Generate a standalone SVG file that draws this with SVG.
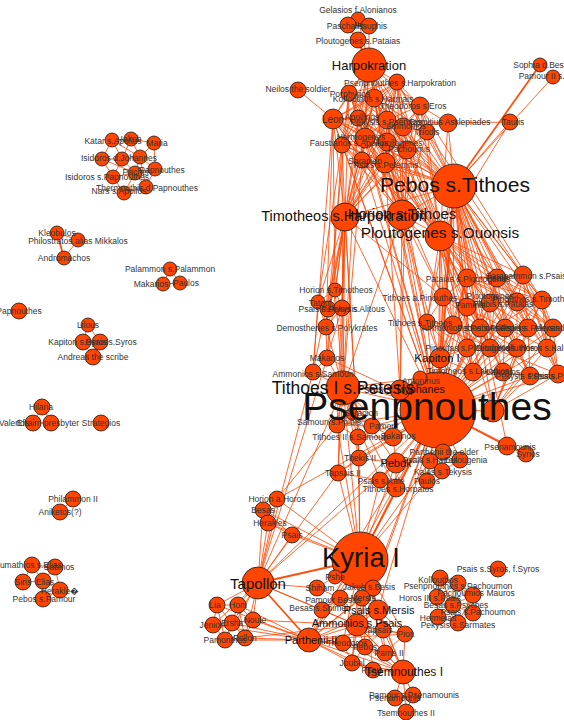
<svg xmlns="http://www.w3.org/2000/svg" width="564" height="720" viewBox="0 0 564 720">
<style>
.e{fill:none;stroke:#ff4500;stroke-width:0.85;stroke-opacity:0.95;stroke-linecap:round}
.w{stroke-width:1.8}
.n circle{fill:#ff4500;stroke:#1a1a1a;stroke-width:0.8}
text{font-family:"Liberation Sans",Arial,Helvetica,sans-serif;text-anchor:middle;fill:#333;font-size:8.5px}
.L{fill:#111}
</style>
<rect width="564" height="720" fill="#fff"/>
<g id="connectors">
<path class="e" d="M369 65L358 19M369 65L348 25M369 65L369 26M369 65L397 82M369 65L349 93M369 65L374 98M369 65L420 106M369 65L333 119M369 65L358 118M369 65L387 120M369 65L403 127M369 65L365 138M369 65L342 145M369 65L387 142M369 65L407 150M369 65L385 163M369 65L362 160M369 65L454 186M369 65L345 217M369 65L402 215"/>
<path class="e w" d="M369 65L358 40"/>
<path class="e" d="M358 19L348 25M358 19L369 26M348 25L358 40M369 26L358 40M348 25L369 26M298 90L333 119"/>
<path class="e" d="M397 82L349 93M397 82L374 98M397 82L420 106M397 82L333 119M397 82L358 118M397 82L387 120M397 82L403 127M397 82L427 132M397 82L365 138M397 82L342 145M397 82L387 142M397 82L407 150M397 82L385 163M349 93L374 98M349 93L333 119M349 93L358 118M349 93L387 120M349 93L365 138M349 93L342 145M349 93L387 142M349 93L385 163M374 98L420 106M374 98L333 119M374 98L358 118M374 98L387 120M374 98L403 127M374 98L427 132M374 98L365 138M374 98L407 150M374 98L385 163M374 98L362 160M420 106L387 120M420 106L403 127M420 106L427 132M420 106L407 150M420 106L448 123M333 119L358 118M333 119L387 120M333 119L365 138M333 119L342 145M333 119L387 142M333 119L385 163M333 119L362 160M358 118L387 120M358 118L365 138M358 118L342 145M358 118L407 150M387 120L403 127M387 120L365 138M387 120L387 142M387 120L407 150M387 120L385 163M387 120L448 123M403 127L427 132M403 127L387 142M403 127L407 150M403 127L448 123M448 123L510 122M427 132L407 150M365 138L342 145M365 138L387 142M365 138L385 163M365 138L362 160M342 145L387 142M342 145L385 163M342 145L362 160M387 142L407 150M387 142L385 163M407 150L385 163M385 163L362 160"/>
<path class="e" d="M454 186L397 82M454 186L349 93M454 186L374 98M454 186L420 106M454 186L333 119M454 186L358 118M454 186L387 120M454 186L403 127M454 186L448 123M454 186L510 122M454 186L427 132M454 186L365 138M454 186L342 145M454 186L387 142M454 186L407 150M454 186L385 163M454 186L362 160M454 186L553 77M454 186L467 278M454 186L497 278M454 186L523 275M454 186L443 297M454 186L490 303M454 186L467 307M454 186L517 302M454 186L542 300M454 186L427 322M454 186L453 325M454 186L480 328M454 186L505 328M454 186L528 328M454 186L553 328M454 186L467 348M454 186L490 348M454 186L517 348M454 186L547 348M454 186L440 358M454 186L473 372M454 186L503 372M454 186L530 376M454 186L558 374M454 186L345 217M454 186L402 215M454 186L440 236M454 186L493 411M454 186L507 446"/>
<path class="e w" d="M454 186L540 65M454 186L438 410"/>
<path class="e" d="M345 217L397 82M345 217L349 93M345 217L374 98M345 217L420 106M345 217L333 119M345 217L358 118M345 217L387 120M345 217L403 127M345 217L427 132M345 217L365 138M345 217L342 145M345 217L387 142M345 217L407 150M345 217L385 163M345 217L362 160M345 217L335 290M345 217L318 302M345 217L328 309M345 217L342 308M345 217L326 327M345 217L327 358M345 217L313 372M345 217L343 388M345 217L438 410M345 217L337 425M345 217L358 437M345 217L359 458M345 217L338 473M345 217L402 215M345 217L443 297"/>
<path class="e" d="M402 215L397 82M402 215L349 93M402 215L374 98M402 215L420 106M402 215L333 119M402 215L358 118M402 215L387 120M402 215L403 127M402 215L427 132M402 215L365 138M402 215L342 145M402 215L387 142M402 215L407 150M402 215L385 163M402 215L362 160M402 215L400 390M402 215L438 410M402 215L443 297M402 215L427 322M402 215L440 358M402 215L467 278M402 215L343 388M402 215L440 236"/>
<path class="e" d="M440 236L397 82M440 236L349 93M440 236L374 98M440 236L420 106M440 236L333 119M440 236L358 118M440 236L387 120M440 236L403 127M440 236L448 123M440 236L510 122M440 236L427 132M440 236L365 138M440 236L342 145M440 236L387 142M440 236L407 150M440 236L385 163M440 236L362 160M440 236L467 278M440 236L497 278M440 236L523 275M440 236L443 297M440 236L490 303M440 236L467 307M440 236L517 302M440 236L542 300M440 236L427 322M440 236L453 325M440 236L480 328M440 236L505 328M440 236L528 328M440 236L467 348M440 236L490 348M440 236L440 358M440 236L473 372M440 236L503 372M440 236L438 410M440 236L493 411"/>
<path class="e" d="M333 119L438 410M358 118L438 410M365 138L438 410M342 145L438 410M385 163L438 410M362 160L438 410M374 98L438 410M333 119L335 290M333 119L326 327M342 145L318 302M342 145L327 358M362 160L343 388M358 118L343 388M349 93L328 309M407 150L467 278M385 163L443 297M403 127L497 278M427 132L523 275M387 142L467 307M387 120L427 322M420 106L542 300M407 150L400 390M385 163L400 390M333 119L313 372M342 145L343 388"/>
<path class="e" d="M335 290L318 302M335 290L328 309M335 290L342 308M318 302L328 309M328 309L342 308M318 302L326 327M328 309L326 327M342 308L326 327M326 327L327 358M327 358L313 372M327 358L343 388M313 372L343 388M326 327L343 388M335 290L343 388M342 308L327 358M318 302L313 372"/>
<path class="e" d="M467 278L497 278M467 278L523 275M467 278L443 297M467 278L490 303M467 278L467 307M467 278L517 302M467 278L542 300M467 278L453 325M467 278L480 328M467 278L467 348M467 278L440 358M497 278L523 275M497 278L490 303M497 278L517 302M497 278L542 300M497 278L505 328M497 278L528 328M497 278L553 328M497 278L490 348M523 275L517 302M523 275L542 300M523 275L528 328M523 275L553 328M523 275L547 348M523 275L558 374M443 297L490 303M443 297L467 307M443 297L427 322M443 297L453 325M443 297L480 328M443 297L467 348M443 297L440 358M490 303L467 307M490 303L517 302M490 303L480 328M490 303L505 328M490 303L528 328M490 303L490 348M467 307L453 325M467 307L480 328M467 307L467 348M467 307L490 348M467 307L440 358M517 302L542 300M517 302L505 328M517 302L528 328M517 302L553 328M517 302L517 348M542 300L528 328M542 300L553 328M542 300L547 348M542 300L558 374M427 322L453 325M427 322L467 348M427 322L440 358M427 322L473 372M453 325L480 328M453 325L467 348M453 325L490 348M453 325L440 358M453 325L473 372M480 328L505 328M480 328L490 348M480 328L517 348M480 328L503 372M505 328L528 328M505 328L517 348M505 328L503 372M505 328L530 376M528 328L553 328M528 328L547 348M528 328L530 376M553 328L547 348M553 328L558 374M467 348L490 348M467 348L440 358M467 348L473 372M490 348L517 348M490 348L503 372M517 348L547 348M517 348L530 376M547 348L558 374M440 358L473 372M473 372L503 372M503 372L530 376M530 376L558 374M467 278L553 328M443 297L547 348M427 322L558 374M523 275L473 372M542 300L440 358M497 278L473 372M467 307L530 376"/>
<path class="e" d="M467 278L438 410M497 278L438 410M523 275L438 410M443 297L438 410M490 303L438 410M467 307L438 410M517 302L438 410M542 300L438 410M427 322L438 410M453 325L438 410M480 328L438 410M505 328L438 410M528 328L438 410M553 328L438 410M467 348L438 410M490 348L438 410M517 348L438 410M547 348L438 410M440 358L438 410M473 372L438 410M503 372L438 410M530 376L438 410M558 374L438 410M553 328L493 411M547 348L493 411M530 376L493 411M558 374L493 411M517 348L493 411M528 328L493 411M542 300L493 411"/>
<path class="e" d="M438 410L400 390M438 410L420 378M438 410L493 411M438 410L337 425M438 410L372 426M438 410L358 437M438 410L393 437M438 410L359 458M438 410L396 463M438 410L443 452M438 410L430 461M438 410L460 460M438 410L442 471M438 410L427 481M438 410L338 473M438 410L380 480M438 410L396 488M438 410L526 454M438 410L327 358M438 410L313 372M438 410L343 388M438 410L258 583M438 410L309 640M438 410L378 610M438 410L357 625M438 410L335 577M438 410L373 588M438 410L277 499"/>
<path class="e w" d="M438 410L507 446M507 446L526 454M438 410L360 560M360 560L258 583M258 583L309 640"/>
<path class="e" d="M343 388L400 390M343 388L337 425M343 388L372 426M343 388L358 437M343 388L393 437M343 388L359 458M343 388L338 473M343 388L396 463M343 388L420 378M343 388L360 560M343 388L380 480M343 388L396 488"/>
<path class="e" d="M337 425L372 426M337 425L358 437M372 426L358 437M372 426L393 437M358 437L393 437M358 437L359 458M359 458L396 463M359 458L338 473M396 463L443 452M396 463L430 461M396 463L380 480M396 463L396 488M443 452L430 461M443 452L460 460M430 461L442 471M460 460L442 471M442 471L427 481M380 480L396 488M338 473L380 480M393 437L396 463M400 390L393 437M337 425L352 414M352 414L372 426M277 499L337 425M263 510L268 523M268 523L292 535M263 510L292 535M277 499L263 510"/>
<path class="e" d="M360 560L359 458M360 560L396 463M360 560L338 473M360 560L380 480M360 560L396 488M360 560L337 425M360 560L358 437M360 560L277 499M360 560L263 510M360 560L268 523M360 560L292 535M360 560L335 577M360 560L317 588M360 560L373 588M360 560L340 598M360 560L362 598M360 560L322 610M360 560L378 610M360 560L357 625M360 560L383 630M360 560L405 634M360 560L309 640M360 560L343 643M360 560L365 647M360 560L385 653M360 560L352 663M360 560L373 670M360 560L403 672M360 560L427 481M360 560L430 461"/>
<path class="e" d="M258 583L313 372M258 583L343 388M258 583L277 499M258 583L263 510M258 583L268 523M258 583L292 535M258 583L338 473M258 583L396 463M258 583L217 605M258 583L238 605M258 583L213 625M258 583L232 623M258 583L253 620M258 583L225 640M258 583L245 638M258 583L317 588M258 583L322 610M258 583L357 625M258 583L327 358"/>
<path class="e" d="M217 605L238 605M217 605L213 625M217 605L232 623M238 605L232 623M238 605L253 620M213 625L232 623M213 625L225 640M232 623L253 620M232 623L225 640M232 623L245 638M253 620L245 638M225 640L245 638M238 605L245 638M217 605L225 640M253 620L309 640M245 638L309 640M225 640L309 640M232 623L309 640M238 605L309 640M213 625L309 640M217 605L309 640M253 620L357 625M245 638L357 625"/>
<path class="e" d="M309 640L357 625M309 640L378 610M309 640L383 630M309 640L405 634M309 640L343 643M309 640L365 647M309 640L385 653M309 640L352 663M309 640L373 670M309 640L403 672M309 640L373 588M309 640L322 610M309 640L340 598M309 640L362 598"/>
<path class="e" d="M378 610L357 625M378 610L383 630M378 610L405 634M378 610L373 588M378 610L362 598M357 625L383 630M357 625L343 643M357 625L365 647M357 625L385 653M357 625L352 663M357 625L405 634M383 630L405 634M383 630L365 647M383 630L385 653M405 634L403 672M405 634L385 653M343 643L365 647M365 647L385 653M365 647L352 663M385 653L403 672M352 663L373 670M373 670L403 672M365 647L403 672M343 643L403 672M352 663L403 672M357 625L403 672M383 630L403 672M335 577L373 588M317 588L340 598M340 598L362 598M322 610L340 598M373 588L362 598M322 610L357 625M340 598L357 625M362 598L357 625M343 643L352 663M378 610L403 672"/>
<path class="e" d="M403 672L395 698M403 672L413 695M403 672L406 712M395 698L413 695M395 698L406 712M413 695L406 712"/>
<path class="e" d="M440 578L458 583M440 578L473 595M440 578L437 597M440 578L453 605M458 583L473 595M458 583L437 597M458 583L453 605M458 583L473 613M473 595L453 605M473 595L473 613M437 597L453 605M437 597L438 617M453 605L473 613M453 605L438 617M453 605L458 623M473 613L458 623M438 617L458 623M437 597L458 623M473 595L458 623"/>
<path class="e" d="M112 140L131 139M112 140L102 159M112 140L122 159M112 140L140 157M131 139L154 143M131 139L122 159M131 139L140 157M154 143L140 157M154 143L155 169M102 159L122 159M102 159L113 177M122 159L140 157M122 159L135 173M122 159L113 177M140 157L155 169M140 157L135 173M155 169L135 173M155 169L146 187M113 177L135 173M113 177L124 193M135 173L146 187M135 173L124 193M146 187L124 193M102 159L135 173M140 157L146 187"/>
<path class="e" d="M57 233L78 240M78 240L64 258M170 269L163 284M170 269L180 283M163 284L180 283M88 325L83 342M88 325L100 342M83 342L100 342M83 342L93 357M100 342L93 357M42 407L33 423M42 407L51 423M33 423L51 423M73 499L60 512M32 565L55 567M32 565L23 582M32 565L43 581M55 567L43 581M23 582L43 581M43 581L60 590M43 581L43 599M60 590L43 599M55 567L60 590"/>
<path class="e w" d="M57 233L64 258"/>
</g>
<g id="nodes">
<g id="gelasios" class="n"><circle cx="358" cy="19" r="7"/></g>
<g id="paschalis" class="n"><circle cx="348" cy="25" r="8"/></g>
<g id="psuphis" class="n"><circle cx="369" cy="26" r="8"/></g>
<g id="ploutogenes-pataias" class="n"><circle cx="358" cy="40" r="8"/></g>
<g id="harpokration" class="n"><circle cx="369" cy="65" r="17"/></g>
<g id="neilos" class="n"><circle cx="298" cy="90" r="8"/></g>
<g id="psenpnouthes-harpokration" class="n"><circle cx="397" cy="82" r="8"/></g>
<g id="porphyrios" class="n"><circle cx="349" cy="93" r="8"/></g>
<g id="kollouthos-harmais" class="n"><circle cx="374" cy="98" r="9"/></g>
<g id="theodoros-eros" class="n"><circle cx="420" cy="106" r="9"/></g>
<g id="leon" class="n"><circle cx="333" cy="119" r="10"/></g>
<g id="apollinos" class="n"><circle cx="358" cy="118" r="8"/></g>
<g id="pekysis-psennos" class="n"><circle cx="387" cy="120" r="9"/></g>
<g id="ammonios" class="n"><circle cx="403" cy="127" r="9"/></g>
<g id="domitius" class="n"><circle cx="448" cy="123" r="9"/></g>
<g id="tauris" class="n"><circle cx="510" cy="122" r="8"/></g>
<g id="triodis" class="n"><circle cx="427" cy="132" r="8"/></g>
<g id="hermogenes" class="n"><circle cx="365" cy="138" r="10"/></g>
<g id="faustianos" class="n"><circle cx="342" cy="145" r="8"/></g>
<g id="apollogenes" class="n"><circle cx="387" cy="142" r="9"/></g>
<g id="pachoumis" class="n"><circle cx="407" cy="150" r="9"/></g>
<g id="psais-petemnis" class="n"><circle cx="385" cy="163" r="10"/></g>
<g id="sarapion-top" class="n"><circle cx="362" cy="160" r="8"/></g>
<g id="sophia" class="n"><circle cx="540" cy="65" r="7"/></g>
<g id="pamour-ii" class="n"><circle cx="553" cy="77" r="7"/></g>
<g id="pebos-tithoes" class="n"><circle cx="454" cy="186" r="22"/></g>
<g id="timotheos-harpokration" class="n"><circle cx="345" cy="217" r="14"/></g>
<g id="horion-tithoes" class="n"><circle cx="402" cy="215" r="15"/></g>
<g id="ploutogenes-ouonsis" class="n"><circle cx="440" cy="236" r="15"/></g>
<g id="horion-timotheos" class="n"><circle cx="335" cy="290" r="7"/></g>
<g id="tatoul" class="n"><circle cx="318" cy="302" r="7"/></g>
<g id="psais-pekysis" class="n"><circle cx="328" cy="309" r="8"/></g>
<g id="pekysis-alitous" class="n"><circle cx="342" cy="308" r="8"/></g>
<g id="demosthenes" class="n"><circle cx="326" cy="327" r="8"/></g>
<g id="makarios-mid" class="n"><circle cx="327" cy="358" r="8"/></g>
<g id="ammonios-samoun" class="n"><circle cx="313" cy="372" r="8"/></g>
<g id="tithoes-i-petesis" class="n"><circle cx="343" cy="388" r="17"/></g>
<g id="pataias" class="n"><circle cx="467" cy="278" r="9"/></g>
<g id="psais-r" class="n"><circle cx="497" cy="278" r="9"/></g>
<g id="sarapammon" class="n"><circle cx="523" cy="275" r="9"/></g>
<g id="tithoes-pinouthes" class="n"><circle cx="443" cy="297" r="9"/></g>
<g id="ploutogenes" class="n"><circle cx="490" cy="303" r="9"/></g>
<g id="paminis" class="n"><circle cx="467" cy="307" r="9"/></g>
<g id="phibis" class="n"><circle cx="517" cy="302" r="9"/></g>
<g id="pinouthes-timotheos" class="n"><circle cx="542" cy="300" r="9"/></g>
<g id="tithoes-tithoes" class="n"><circle cx="427" cy="322" r="8"/></g>
<g id="ammonios-pebos" class="n"><circle cx="453" cy="325" r="9"/></g>
<g id="pebos-psais" class="n"><circle cx="480" cy="328" r="9"/></g>
<g id="asklepios" class="n"><circle cx="505" cy="328" r="9"/></g>
<g id="psais-pekysis-r" class="n"><circle cx="528" cy="328" r="9"/></g>
<g id="alexandros" class="n"><circle cx="553" cy="328" r="9"/></g>
<g id="pinoutas" class="n"><circle cx="467" cy="348" r="9"/></g>
<g id="diodoros" class="n"><circle cx="490" cy="348" r="9"/></g>
<g id="kolluthos-r" class="n"><circle cx="517" cy="348" r="9"/></g>
<g id="horos-kalos" class="n"><circle cx="547" cy="348" r="9"/></g>
<g id="kapiton-i" class="n"><circle cx="440" cy="358" r="10"/></g>
<g id="timotheos-lakonios" class="n"><circle cx="473" cy="372" r="9"/></g>
<g id="lakonios" class="n"><circle cx="503" cy="372" r="9"/></g>
<g id="pekysis-psais" class="n"><circle cx="530" cy="376" r="9"/></g>
<g id="psais-psenosiris" class="n"><circle cx="558" cy="374" r="9"/></g>
<g id="psenpnouthes" class="n"><circle cx="438" cy="410" r="38"/></g>
<g id="antoninus" class="n"><circle cx="420" cy="378" r="7"/></g>
<g id="psais-tryphanes" class="n"><circle cx="400" cy="390" r="10"/></g>
<g id="kollouthos-hidden" class="n"><circle cx="493" cy="411" r="11"/></g>
<g id="samoun" class="n"><circle cx="337" cy="425" r="8"/></g>
<g id="sarapion" class="n"><circle cx="352" cy="414" r="6"/></g>
<g id="pamour" class="n"><circle cx="372" cy="426" r="8"/></g>
<g id="tithoes-ii" class="n"><circle cx="358" cy="437" r="8"/></g>
<g id="sakainos" class="n"><circle cx="393" cy="437" r="9"/></g>
<g id="tbekis" class="n"><circle cx="359" cy="458" r="8"/></g>
<g id="pebok" class="n"><circle cx="396" cy="463" r="10"/></g>
<g id="parthenii-elder" class="n"><circle cx="443" cy="452" r="8"/></g>
<g id="psais-hatres" class="n"><circle cx="430" cy="461" r="8"/></g>
<g id="eulougenia" class="n"><circle cx="460" cy="460" r="8"/></g>
<g id="kales" class="n"><circle cx="442" cy="471" r="8"/></g>
<g id="paulos" class="n"><circle cx="427" cy="481" r="8"/></g>
<g id="tapsais-ii" class="n"><circle cx="338" cy="473" r="8"/></g>
<g id="psais-kale" class="n"><circle cx="380" cy="480" r="8"/></g>
<g id="tithoes-horpatos" class="n"><circle cx="396" cy="488" r="9"/></g>
<g id="psenamounis-r" class="n"><circle cx="507" cy="446" r="9"/></g>
<g id="syrios" class="n"><circle cx="526" cy="454" r="8"/></g>
<g id="horion-horos" class="n"><circle cx="277" cy="499" r="8"/></g>
<g id="besas" class="n"><circle cx="263" cy="510" r="8"/></g>
<g id="herakles" class="n"><circle cx="268" cy="523" r="8"/></g>
<g id="psais-l" class="n"><circle cx="292" cy="535" r="8"/></g>
<g id="kyria-i" class="n"><circle cx="360" cy="560" r="28"/></g>
<g id="tapollon" class="n"><circle cx="258" cy="583" r="16"/></g>
<g id="pshe" class="n"><circle cx="335" cy="577" r="7"/></g>
<g id="shiham" class="n"><circle cx="317" cy="588" r="8"/></g>
<g id="jakob" class="n"><circle cx="373" cy="588" r="8"/></g>
<g id="pamour-besas" class="n"><circle cx="340" cy="598" r="8"/></g>
<g id="mersis" class="n"><circle cx="362" cy="598" r="8"/></g>
<g id="besas-shimeh" class="n"><circle cx="322" cy="610" r="8"/></g>
<g id="psais-mersis" class="n"><circle cx="378" cy="610" r="10"/></g>
<g id="ammonios-psais" class="n"><circle cx="357" cy="625" r="11"/></g>
<g id="tapsais" class="n"><circle cx="383" cy="630" r="8"/></g>
<g id="pion" class="n"><circle cx="405" cy="634" r="8"/></g>
<g id="parthenii-ii" class="n"><circle cx="309" cy="640" r="12"/></g>
<g id="theodoros" class="n"><circle cx="343" cy="643" r="8"/></g>
<g id="pebos" class="n"><circle cx="365" cy="647" r="8"/></g>
<g id="pame-ii" class="n"><circle cx="385" cy="653" r="8"/></g>
<g id="joubel" class="n"><circle cx="352" cy="663" r="8"/></g>
<g id="psais-k" class="n"><circle cx="373" cy="670" r="8"/></g>
<g id="tsemnouthes-i" class="n"><circle cx="403" cy="672" r="12"/></g>
<g id="psenamounis" class="n"><circle cx="395" cy="698" r="8"/></g>
<g id="pamour-psenamounis" class="n"><circle cx="413" cy="695" r="8"/></g>
<g id="tsemnouthes-ii" class="n"><circle cx="406" cy="712" r="8"/></g>
<g id="lia" class="n"><circle cx="217" cy="605" r="8"/></g>
<g id="hom" class="n"><circle cx="238" cy="605" r="8"/></g>
<g id="jenior" class="n"><circle cx="213" cy="625" r="8"/></g>
<g id="ersha" class="n"><circle cx="232" cy="623" r="8"/></g>
<g id="noute" class="n"><circle cx="253" cy="620" r="8"/></g>
<g id="pamonthes" class="n"><circle cx="225" cy="640" r="8"/></g>
<g id="pollon" class="n"><circle cx="245" cy="638" r="8"/></g>
<g id="psais-syros" class="n"><circle cx="498" cy="569" r="8"/></g>
<g id="kollouthos" class="n"><circle cx="440" cy="578" r="8"/></g>
<g id="psenpnouthes-pachoumon" class="n"><circle cx="458" cy="583" r="8"/></g>
<g id="pachoumios" class="n"><circle cx="473" cy="595" r="8"/></g>
<g id="horos-iii" class="n"><circle cx="437" cy="597" r="8"/></g>
<g id="besas-psyches" class="n"><circle cx="453" cy="605" r="8"/></g>
<g id="psais-pachoumon" class="n"><circle cx="473" cy="613" r="8"/></g>
<g id="hermeias" class="n"><circle cx="438" cy="617" r="8"/></g>
<g id="pekysis-sarmates" class="n"><circle cx="458" cy="623" r="8"/></g>
<g id="katar" class="n"><circle cx="112" cy="140" r="7"/></g>
<g id="iakob" class="n"><circle cx="131" cy="139" r="7"/></g>
<g id="maria" class="n"><circle cx="154" cy="143" r="7"/></g>
<g id="isidoros" class="n"><circle cx="102" cy="159" r="7"/></g>
<g id="isidoros-johannes" class="n"><circle cx="122" cy="159" r="7"/></g>
<g id="johannes" class="n"><circle cx="140" cy="157" r="7"/></g>
<g id="papnouthes-a" class="n"><circle cx="155" cy="169" r="7"/></g>
<g id="isidoros-papnouthes" class="n"><circle cx="113" cy="177" r="7"/></g>
<g id="pacher" class="n"><circle cx="135" cy="173" r="7"/></g>
<g id="thermouthis" class="n"><circle cx="146" cy="187" r="7"/></g>
<g id="nars" class="n"><circle cx="124" cy="193" r="7"/></g>
<g id="kleobulos" class="n"><circle cx="57" cy="233" r="7"/></g>
<g id="philostratos" class="n"><circle cx="78" cy="240" r="7"/></g>
<g id="andromachos" class="n"><circle cx="64" cy="258" r="7"/></g>
<g id="palammon" class="n"><circle cx="170" cy="269" r="7"/></g>
<g id="makarios" class="n"><circle cx="163" cy="284" r="7"/></g>
<g id="paulos-b" class="n"><circle cx="180" cy="283" r="7"/></g>
<g id="papnouthes" class="n"><circle cx="19" cy="311" r="8"/></g>
<g id="lilous" class="n"><circle cx="88" cy="325" r="7"/></g>
<g id="kapiton-syros" class="n"><circle cx="83" cy="342" r="8"/></g>
<g id="psais-syros-b" class="n"><circle cx="100" cy="342" r="8"/></g>
<g id="andreas" class="n"><circle cx="93" cy="357" r="8"/></g>
<g id="hilaria" class="n"><circle cx="42" cy="407" r="8"/></g>
<g id="valerios" class="n"><circle cx="33" cy="423" r="8"/></g>
<g id="presbyter" class="n"><circle cx="51" cy="423" r="8"/></g>
<g id="strategios" class="n"><circle cx="101" cy="423" r="8"/></g>
<g id="philammon" class="n"><circle cx="73" cy="499" r="8"/></g>
<g id="aniketos" class="n"><circle cx="60" cy="512" r="8"/></g>
<g id="eumathios" class="n"><circle cx="32" cy="565" r="8"/></g>
<g id="sabinos" class="n"><circle cx="55" cy="567" r="8"/></g>
<g id="siris" class="n"><circle cx="23" cy="582" r="8"/></g>
<g id="elias" class="n"><circle cx="43" cy="581" r="8"/></g>
<g id="herakle" class="n"><circle cx="60" cy="590" r="8"/></g>
<g id="pebos-pamour" class="n"><circle cx="43" cy="599" r="8"/></g>
</g>
<g id="labels">
<text x="358" y="13">Gelasios f.Alonianos</text>
<text x="345" y="29">Paschalis</text>
<text x="372" y="29">Psuphis</text>
<text x="358" y="44">Ploutogenes s.Pataias</text>
<text x="298" y="92">Neilos the soldier</text>
<text x="400" y="86">Psenpnouthes s.Harpokration</text>
<text x="350" y="97">Porphyrios</text>
<text x="373" y="102">Kollouthos s.Harmais</text>
<text x="413" y="109">Theodoros s.Eros</text>
<text x="362" y="120">Apollinos</text>
<text x="386" y="125">Pekysis s.Psennos</text>
<text x="406" y="129">Ammonios</text>
<text x="450" y="125">Domitius Asklepiades</text>
<text x="513" y="125">Tauris</text>
<text x="427" y="135">Triodis</text>
<text x="361" y="140">Hermogenes</text>
<text x="349" y="146">Faustianos s.Apollos</text>
<text x="399" y="146">Apollogenes</text>
<text x="409" y="152">Pachoumis</text>
<text x="365" y="164">Sarapion</text>
<text x="386" y="168">Psais s.Petemnis</text>
<text x="333" y="123" style="font-size:10px">Leon</text>
<text x="543" y="68">Sophia d.Besas</text>
<text x="552" y="79">Pamour II s.Psais</text>
<text x="336" y="293">Horion s.Timotheos</text>
<text x="320" y="306">Tatoul</text>
<text x="328" y="312">Psais s.Pekysis</text>
<text x="353" y="312">Pekysis s.Alitous</text>
<text x="327" y="331">Demosthenes s.Polykrates</text>
<text x="327" y="361">Makarios</text>
<text x="313" y="377">Ammonios s.Samoun</text>
<text x="468" y="282">Pataias s.Ploutogenes</text>
<text x="497" y="281">Psais</text>
<text x="526" y="279">Sarapammon s.Psais</text>
<text x="420" y="301">Tithoes a.Pinouthes</text>
<text x="490" y="299">Ploutogenes</text>
<text x="470" y="308">Paminis</text>
<text x="503" y="307">Phibis s.Pataias</text>
<text x="535" y="302">Pinouthes s.Timotheos</text>
<text x="420" y="326">Tithoes s.Tithoes</text>
<text x="458" y="331">Ammonios s.Pebos</text>
<text x="484" y="331">Pebos s.Psais</text>
<text x="507" y="331">Asklepios</text>
<text x="530" y="331">Psais s.Pekysis</text>
<text x="555" y="331">Alexandros</text>
<text x="470" y="351">Pinoutas s.Ploutogenes</text>
<text x="493" y="351">Diodoros</text>
<text x="517" y="351">Kolluthos</text>
<text x="546" y="351">Horos s.Kalos</text>
<text x="468" y="374">Timotheos s.Lakonios</text>
<text x="503" y="375">Lakonios</text>
<text x="525" y="379">Pekysis s.Psais</text>
<text x="562" y="379">Psais s.Psenosiris</text>
<text x="421" y="384">Antoninus</text>
<text x="329" y="425">Samoun s.Phibis</text>
<text x="361" y="416">Sarapion</text>
<text x="384" y="429">Pamour</text>
<text x="350" y="440">Tithoes II s.Samoun</text>
<text x="398" y="439">Sakainos</text>
<text x="360" y="461">Tbekis II</text>
<text x="444" y="455">Parthenii the elder</text>
<text x="430" y="463">Psais s.Hatres</text>
<text x="466" y="463">Eulougenia</text>
<text x="443" y="475">Kales s.Tekysis</text>
<text x="427" y="484">Paulos</text>
<text x="343" y="476">Tapsais II</text>
<text x="381" y="484">Psais s.Kale</text>
<text x="398" y="492">Tithoes s.Horpatos</text>
<text x="510" y="450">Psenamounis</text>
<text x="528" y="457">Syrios</text>
<text x="277" y="502">Horion a.Horos</text>
<text x="263" y="513">Besas</text>
<text x="270" y="526">Herakles</text>
<text x="292" y="538">Psais</text>
<text x="335" y="580">Pshe</text>
<text x="320" y="591">Shiham</text>
<text x="369" y="590">Jakob s.Besis</text>
<text x="333" y="603">Pamour Besas</text>
<text x="363" y="601">Mersis</text>
<text x="320" y="611">Besas s.Shimeh</text>
<text x="378" y="633">Tapsais</text>
<text x="406" y="637">Pion</text>
<text x="347" y="646">Theodoros</text>
<text x="365" y="650">Pebos</text>
<text x="389" y="656">Pame II</text>
<text x="352" y="666">Joubel</text>
<text x="372" y="673">Psais</text>
<text x="395" y="701">Psenamounis</text>
<text x="414" y="698">Pamour s.Psenamounis</text>
<text x="406" y="716">Tsemnouthes II</text>
<text x="215" y="608">Lia</text>
<text x="238" y="608">Hom</text>
<text x="211" y="628">Jenior</text>
<text x="232" y="626">Ersha</text>
<text x="255" y="623">Noute</text>
<text x="225" y="643">Pamonthes</text>
<text x="245" y="641">Pollon</text>
<text x="498" y="572">Psais s.Syros, f.Syros</text>
<text x="438" y="583">Kollouthos</text>
<text x="458" y="589">Psenpnouthes s.Pachoumon</text>
<text x="476" y="596">Pachoumios Mauros</text>
<text x="430" y="601">Horos III s.Psais</text>
<text x="456" y="608">Besas s.Psyches</text>
<text x="478" y="615">Psais s.Pachoumon</text>
<text x="438" y="621">Hermeias</text>
<text x="458" y="628">Pekysis s.Sarmates</text>
<text x="113" y="144">Katar s.Apollos</text>
<text x="131" y="142">Iakob</text>
<text x="157" y="146">Maria</text>
<text x="119" y="161">Isidoros d.Johannes</text>
<text x="162" y="173">Papnouthes</text>
<text x="136" y="175">Pacher</text>
<text x="107" y="180">Isidoros s.Papnouthes</text>
<text x="147" y="191">Thermouthis d.Papnouthes</text>
<text x="119" y="194">Nars s.Apollos</text>
<text x="57" y="236">Kleobulos</text>
<text x="78" y="244">Philostratos alias Mikkalos</text>
<text x="64" y="261">Andromachos</text>
<text x="170" y="272">Palammon s.Palammon</text>
<text x="151" y="287">Makarios</text>
<text x="186" y="286">Paulos</text>
<text x="19" y="314">Papnouthes</text>
<text x="88" y="328">Lilous</text>
<text x="78" y="345">Kapiton s.Syros</text>
<text x="111" y="345">Psais s.Syros</text>
<text x="93" y="360">Andreas the scribe</text>
<text x="41" y="410">Hilaria</text>
<text x="14" y="426">Valerios</text>
<text x="48" y="426">Efraim presbyter</text>
<text x="101" y="426">Strategios</text>
<text x="73" y="502">Philammon II</text>
<text x="60" y="515">Aniketos(?)</text>
<text x="28" y="568">Eumathios s.Elias</text>
<text x="59" y="570">Sabinos</text>
<text x="23" y="585">Siris</text>
<text x="45" y="585">Elias</text>
<text x="60" y="594">Herakle&#xFFFD;</text>
<text x="44" y="602">Pebos s.Pamour</text>
<text class="L" x="369" y="70" style="font-size:13px">Harpokration</text>
<text class="L" x="455" y="192" style="font-size:21px">Pebos s.Tithoes</text>
<text class="L" x="344" y="221" style="font-size:14.5px">Timotheos s.Harpokration</text>
<text class="L" x="402" y="219" style="font-size:15px">Horion s.Tithoes</text>
<text class="L" x="440" y="238" style="font-size:15.4px">Ploutogenes s.Ouonsis</text>
<text class="L" x="437" y="362" style="font-size:11.5px">Kapiton I</text>
<text class="L" x="343" y="394" style="font-size:17.5px">Tithoes I s.Petesis</text>
<text class="L" x="401" y="393" style="font-size:10.7px">Psais s.Tryphanes</text>
<text class="L" x="427" y="420" style="font-size:39px">Psenpnouthes</text>
<text class="L" x="396" y="467" style="font-size:11px">Pebok</text>
<text class="L" x="361" y="567" style="font-size:27.5px">Kyria I</text>
<text class="L" x="258" y="589" style="font-size:15px">Tapollon</text>
<text class="L" x="379" y="614" style="font-size:11px">Psais s.Mersis</text>
<text class="L" x="357" y="627" style="font-size:11px">Ammonios s.Psais</text>
<text class="L" x="311" y="644" style="font-size:11px">Parthenii II</text>
<text class="L" x="404" y="676" style="font-size:12px">Tsemnouthes I</text>
</g>
</svg>
